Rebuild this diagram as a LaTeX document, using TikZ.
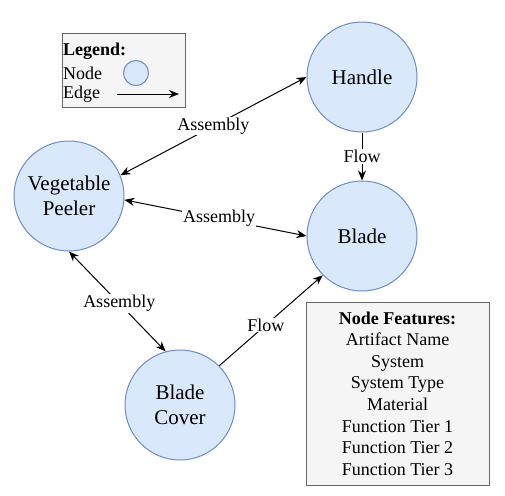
\documentclass[tikz,border=0pt]{standalone}
\usepackage{fontspec}
\setmainfont{Liberation Serif}[BoldFont={Liberation Serif Bold}]
\usetikzlibrary{arrows.meta}

\definecolor{nodefill}{HTML}{DAE8FC}
\definecolor{nodeline}{HTML}{6C8EBF}
\definecolor{boxfill}{HTML}{F5F5F5}
\definecolor{boxline}{HTML}{666666}

\tikzstyle{part}=[circle, draw=nodeline, fill=nodefill, line width=1pt, minimum size=110pt, inner sep=0pt, align=center, font=\rmfamily\fontsize{21}{25}\selectfont]
\tikzstyle{dir}=[-{Stealth[length=10pt,width=8pt]}, line width=1pt]
\tikzstyle{bidir}=[{Stealth[length=10pt,width=8pt]}-{Stealth[length=10pt,width=8pt]}, line width=1pt]
\tikzstyle{lbl}=[fill=white, inner sep=1pt, font=\rmfamily\fontsize{18}{21.6}\selectfont]
\tikzstyle{infobox}=[rectangle, draw=boxline, fill=boxfill, line width=1pt]

\begin{document}
\begin{tikzpicture}[x=1pt, y=-1pt]
        \useasboundingbox (0,0) rectangle (505,495);
        \node[part] (handle) at (362,77) {Handle};
        \node[part] (peeler) at (69,196) {Vegetable\\Peeler};
        \node[part] (blade) at (362,236) {Blade};
        \node[part] (cover) at (180,405) {Blade\\Cover};

        \draw[bidir] (handle.west) to node[lbl] {Assembly} (peeler.22);
        \draw[bidir] (peeler.-4) to node[lbl, pos=0.52] {Assembly} (blade.west);
        \draw[bidir] (peeler.south) to node[lbl, pos=0.52] {Assembly} (cover.105);
        \draw[dir] (handle.south) to node[lbl] {Flow} (blade.north);
        \draw[dir] (cover.45) to node[lbl, pos=0.45] {Flow} (blade.225);

	% legend
	\node[infobox, minimum width=123pt, minimum height=73pt] (legend) at (123.5,70.5) {};
	\node[lbl, fill=none, anchor=west, inner sep=0pt] (legtitle) at (63,51) {\textbf{Legend:}};
	\node[lbl, fill=none, anchor=west, inner sep=0pt] (legnode) at (63,73) {Node};
	\node[lbl, fill=none, anchor=west, inner sep=0pt] (legedge) at (63,94) {Edge};
	\node[circle, draw=nodeline, fill=nodefill, line width=1pt, minimum size=25pt, inner sep=0pt] (legcircle) at (136,73) {};
	\coordinate (legfrom) at (117,94);
	\coordinate (legto) at (179,94);
	\draw[dir] (legfrom) -- (legto);

	% features
	\node[infobox, minimum width=183pt, minimum height=183pt, align=center, font=\rmfamily\fontsize{18}{21.6}\selectfont] (features) at (397.5,393.5)
	  {\textbf{Node Features:}\\Artifact Name\\System\\System Type\\Material\\Function Tier 1\\Function Tier 2\\Function Tier 3};
      \end{tikzpicture}
\end{document}
